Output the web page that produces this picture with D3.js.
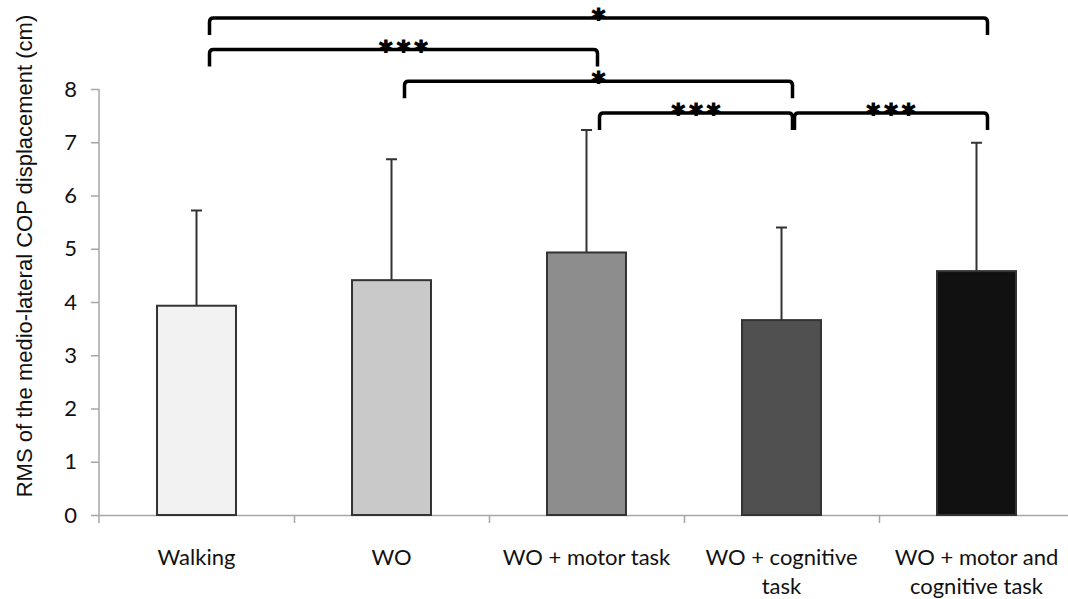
<!DOCTYPE html>
<html>
<head>
<meta charset="utf-8">
<script src="https://cdn.jsdelivr.net/npm/d3@7"></script>
<style>
  body { margin: 0; background: #fff; }
</style>
</head>
<body>
<div id="vis"></div>
<script>
// data
var categories = [["Walking"], ["WO"], ["WO + motor task"], ["WO + cognitive", "task"], ["WO + motor and", "cognitive task"]];
var means = [3.93, 4.41, 4.93, 3.66, 4.58];
var sdUpper = [5.72, 6.68, 7.23, 5.40, 6.99];
var barFills = ["#f2f2f2", "#c9c9c9", "#8d8d8d", "#505050", "#111111"];
var yTicks = [0, 1, 2, 3, 4, 5, 6, 7, 8];
// significance brackets: [from, to, label, level]
var brackets = [
  [0, 4, "*", 3],
  [0, 2, "***", 2],
  [1, 3, "*", 1],
  [2, 3, "***", 0],
  [3, 4, "***", 0]
];

var W = 1068, H = 599;
var plotL = 99, plotR = 1074, plotT = 89, plotB = 515;

var svg = d3.select("#vis")
  .append("svg")
    .attr("width", W)
    .attr("height", H);

var x = d3.scaleBand()
  .domain(d3.range(categories.length))
  .range([plotL, plotR])
  .paddingInner(0.595)
  .paddingOuter(0.2975);

var xEdge = d3.scaleLinear()
  .domain([0, categories.length])
  .range([plotL, plotR]);

var y = d3.scaleLinear()
  .domain([0, 8])
  .range([plotB, plotT]);

// y axis
var yAxis = svg.append("g")
  .attr("transform", "translate(" + plotL + ",0)")
  .call(d3.axisLeft(y).tickValues(yTicks).tickSize(8).tickPadding(14).tickSizeOuter(0));
yAxis.select(".domain").attr("stroke", "#a6a6a6").attr("stroke-width", 1.5)
  .attr("d", "M0," + plotT + "V" + (plotB + 8));
yAxis.selectAll(".tick line").attr("stroke", "#a6a6a6").attr("stroke-width", 1.5);
yAxis.selectAll(".tick text")
  .style("font-family", "Lato, 'Open Sans', sans-serif")
  .style("font-size", "22px")
  .attr("fill", "#111");

// x axis (ticks at category boundaries)
var xAxis = svg.append("g")
  .attr("transform", "translate(0," + plotB + ")")
  .call(d3.axisBottom(xEdge).tickValues(d3.range(1, categories.length + 1)).tickSize(8).tickFormat("").tickSizeOuter(0));
xAxis.select(".domain").attr("stroke", "#a6a6a6").attr("stroke-width", 1.5);
xAxis.selectAll(".tick line").attr("stroke", "#a6a6a6").attr("stroke-width", 1.5);

// category labels
var labels = svg.append("g").selectAll("text")
  .data(categories)
  .enter()
  .append("text")
  .attr("x", function(d, i) { return x(i) + x.bandwidth() / 2; })
  .attr("y", 565)
  .attr("text-anchor", "middle")
  .style("font-family", "Lato, 'Open Sans', sans-serif")
  .style("font-size", "22px")
  .attr("fill", "#111");
labels.selectAll("tspan")
  .data(function(d) { return d; })
  .enter()
  .append("tspan")
  .attr("x", function() { return d3.select(this.parentNode).attr("x"); })
  .attr("dy", function(d, i) { return i == 0 ? 0 : 29; })
  .text(function(d) { return d; });

// error bars
var cap = 5.5;
svg.append("g").selectAll("path")
  .data(means)
  .enter()
  .append("path")
  .attr("d", function(d, i) {
    var cx = x(i) + x.bandwidth() / 2;
    return "M" + cx + "," + y(d) + "V" + y(sdUpper[i]) + "M" + (cx - cap) + "," + y(sdUpper[i]) + "H" + (cx + cap);
  })
  .attr("stroke", "#333")
  .attr("stroke-width", 2)
  .attr("fill", "none");

// bars
svg.append("g").selectAll("rect")
  .data(means)
  .enter()
  .append("rect")
  .attr("x", function(d, i) { return x(i); })
  .attr("y", function(d) { return y(d); })
  .attr("width", x.bandwidth())
  .attr("height", function(d) { return y(0) - y(d); })
  .attr("fill", function(d, i) { return barFills[i]; })
  .attr("stroke", "#333")
  .attr("stroke-width", 2);

// brackets
var levelY = function(l) { return 113 - 31.7 * l; };
var drop = 17, r = 4;
var g = svg.append("g");
brackets.forEach(function(b) {
  var x1 = x(b[0]) + x.bandwidth() / 2 + 13;
  var x2 = x(b[1]) + x.bandwidth() / 2 + 11;
  var ly = levelY(b[3]);
  g.append("path")
    .attr("d", "M" + x1 + "," + (ly + drop) + "V" + (ly + r) + "Q" + x1 + "," + ly + " " + (x1 + r) + "," + ly +
      "H" + (x2 - r) + "Q" + x2 + "," + ly + " " + x2 + "," + (ly + r) + "V" + (ly + drop))
    .attr("fill", "none")
    .attr("stroke", "#000")
    .attr("stroke-width", 3.5);
  g.append("text")
    .attr("x", (x1 + x2) / 2 + 2)
    .attr("y", ly + 10)
    .attr("text-anchor", "middle")
    .style("font-family", "'DejaVu Sans', sans-serif")
    .style("font-weight", "bold")
    .style("font-size", "26px")
    .style("letter-spacing", "4px")
    .attr("stroke", "#000")
    .attr("stroke-width", 1.2)
    .text(b[2]);
});

// y label
svg.append("text")
  .attr("transform", "translate(24," + 256 + ") rotate(-90)")
  .attr("text-anchor", "middle")
  .attr("dominant-baseline", "central")
  .style("font-family", "'Liberation Sans', Arial, sans-serif")
  .style("font-size", "22px")
  .attr("fill", "#111")
  .text("RMS of the medio-lateral COP displacement (cm)");
</script>
</body>
</html>
